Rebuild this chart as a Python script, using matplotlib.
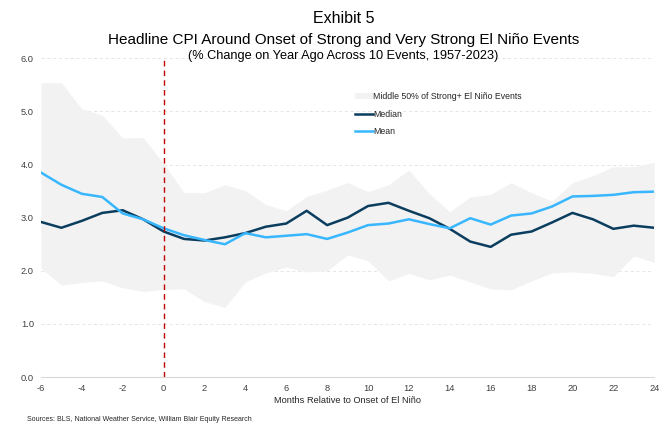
import matplotlib
matplotlib.use("Agg")
import matplotlib.pyplot as plt

plt.rcParams["font.family"] = ["Liberation Sans", "DejaVu Sans"]
plt.rcParams["axes.unicode_minus"] = False

months = list(range(-6, 25))
band_hi = [5.54, 5.54, 5.05, 4.93, 4.50, 4.51, 4.02, 3.47, 3.47, 3.62, 3.51,
           3.25, 3.13, 3.40, 3.52, 3.66, 3.49, 3.62, 3.90, 3.45, 3.11, 3.39,
           3.44, 3.66, 3.47, 3.31, 3.66, 3.79, 3.96, 3.96, 4.04]
band_lo = [2.05, 1.73, 1.78, 1.81, 1.68, 1.61, 1.65, 1.66, 1.42, 1.31, 1.79,
           1.96, 2.07, 1.98, 2.00, 2.30, 2.19, 1.81, 1.95, 1.83, 1.92, 1.79,
           1.66, 1.64, 1.81, 1.96, 1.98, 1.95, 1.89, 2.28, 2.16]
median = [2.92, 2.81, 2.94, 3.09, 3.14, 2.97, 2.74, 2.60, 2.57, 2.63, 2.71,
          2.83, 2.89, 3.13, 2.86, 3.00, 3.22, 3.28, 3.13, 2.99, 2.79, 2.55,
          2.45, 2.68, 2.74, 2.91, 3.09, 2.97, 2.79, 2.85, 2.81]
mean = [3.85, 3.62, 3.45, 3.39, 3.08, 2.97, 2.80, 2.67, 2.58, 2.50, 2.71,
        2.63, 2.66, 2.69, 2.60, 2.72, 2.86, 2.89, 2.97, 2.88, 2.80, 2.99,
        2.87, 3.04, 3.08, 3.21, 3.40, 3.41, 3.43, 3.48, 3.49]

fig = plt.figure(figsize=(6.71, 4.26), dpi=100)
ax = fig.add_axes([0.061, 0.115, 0.914, 0.748])

ax.fill_between(months, band_lo, band_hi, color="#f2f2f2", lw=0,
                label="Middle 50% of Strong+ El Niño Events")
ax.plot(months, median, color="#0b3d5e", lw=1.8, label="Median")
ax.plot(months, mean, color="#38b6ff", lw=1.8, label="Mean")
ax.axvline(0, color="#c00000", ls=(0, (4, 3)), lw=1.0)

ax.set_xlim(-6, 24)
ax.set_ylim(0, 6)
ax.set_xticks(range(-6, 25, 2))
ax.set_yticks([0, 1, 2, 3, 4, 5, 6])
ax.set_yticklabels([f"{v:.1f}" for v in range(7)])
ax.grid(axis="y", color="#e4e4e4", ls=(0, (3, 3)), lw=0.7)
ax.set_axisbelow(True)
for s in ["top", "right", "left"]:
    ax.spines[s].set_visible(False)
ax.spines["bottom"].set_color("#d9d9d9")
ax.tick_params(length=0, labelsize=6.7, colors="#404040", pad=5)
ax.set_xlabel("Months Relative to Onset of El Niño", fontsize=6.7,
              color="#262626", labelpad=2)

ax.legend(loc="upper left", bbox_to_anchor=(0.5, 0.918), frameon=False,
          fontsize=6.3, handlelength=2.0, handletextpad=0.05,
          labelspacing=0.95, labelcolor="#262626")

fig.text(0.512, 0.945, "Exhibit 5", ha="center", fontsize=11.5)
fig.text(0.512, 0.897, "Headline CPI Around Onset of Strong and Very Strong El Niño Events",
         ha="center", fontsize=11.0)
fig.text(0.512, 0.862, "(% Change on Year Ago Across 10 Events, 1957-2023)",
         ha="center", fontsize=9.2)
fig.text(0.04, 0.012, "Sources: BLS, National Weather Service, William Blair Equity Research",
         fontsize=5, color="#262626")

fig.savefig("out.png", dpi=100)
